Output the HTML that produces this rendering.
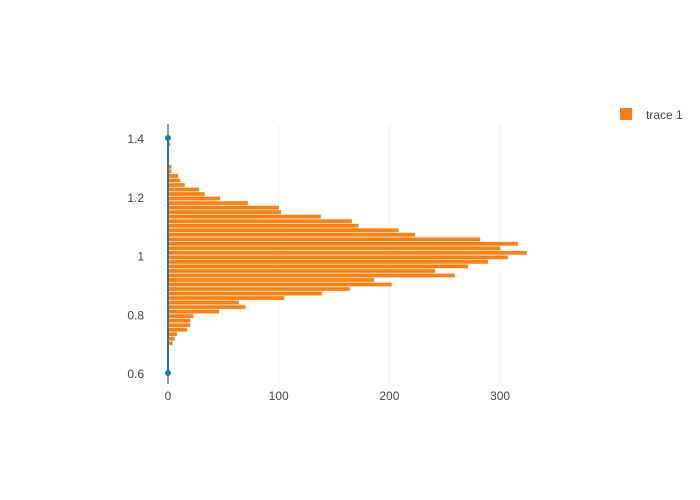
<!DOCTYPE html>
<html><head><meta charset="utf-8"><style>
html,body{margin:0;padding:0;background:#fff;}
svg{display:block;font-family:"Liberation Sans",Arial,sans-serif;}
</style></head><body>
<svg id="chart" width="700" height="500">
<g id="grid"></g>
<g id="bars"></g>
<g id="line"></g>
<g id="xt"></g>
<g id="yt"></g>
<g>
<rect x="620" y="108" width="12" height="12" fill="#ff7f0e"/>
<text x="646" y="119" font-size="12" fill="#444">trace 1</text>
</g>
</svg>
<script>
const binStart = 0.6934;
const binSize = 0.0154;
const counts = [4,6,8,17,20,20,23,46,70,64,105,139,164,202,186,259,241,271,289,307,324,300,316,282,223,208,172,166,138,102,100,72,47,33,28,15,11,9,3,3,0,1,0,0,2];
const xTicks = [0,100,200,300];
const yTicks = [0.6,0.8,1,1.2,1.4];
const yTickLabels = ["0.6","0.8","1","1.2","1.4"];
const lineY = [0.6,1.4];
const NS="http://www.w3.org/2000/svg";
const X0=168, XS=1.107, Y14=138, YS=293.75;
const xs=v=>X0+v*XS, ys=v=>Y14-(v-1.4)*YS;
function mk(t,a,p){const e=document.createElementNS(NS,t);for(const k in a)e.setAttribute(k,a[k]);p.appendChild(e);return e;}
const grid=document.getElementById('grid');
xTicks.forEach(t=>{if(t===0)return;const l=mk('line',{x1:xs(t),x2:xs(t),y1:124,y2:384,stroke:'#eee','stroke-width':1},grid);

});
const zl=mk('line',{x1:X0,x2:X0,y1:124,y2:384,stroke:'#999','stroke-width':2},grid);


const bars=document.getElementById('bars');
counts.forEach((c,i)=>{if(!c)return;const yc=binStart+(i+0.5)*binSize;const h=binSize*YS;
const r=mk('rect',{x:X0,y:ys(yc)-h/2+0.5,width:c*XS,height:h-1,fill:'#ff7f0e',stroke:'rgba(255,127,14,0.4)','stroke-width':0.5},bars);

});
const lg=document.getElementById('line');
const pl=mk('line',{x1:xs(0),x2:xs(0),y1:ys(lineY[0]),y2:ys(lineY[1]),stroke:'#1f77b4','stroke-width':2},lg);


lineY.forEach(v=>{const c=mk('circle',{cx:xs(0),cy:ys(v),r:3,fill:'#1f77b4'},lg);

});
const xt=document.getElementById('xt');
xTicks.forEach(t=>{const e=mk('text',{x:xs(t),y:400,'text-anchor':'middle','font-size':12,fill:'#444'},xt);e.textContent=t;

});
const yt=document.getElementById('yt');
yTicks.forEach((t,i)=>{const e=mk('text',{x:144,y:ys(t)+5,'text-anchor':'end','font-size':12,fill:'#444'},yt);e.textContent=yTickLabels[i];

});
</script>
</body></html>
